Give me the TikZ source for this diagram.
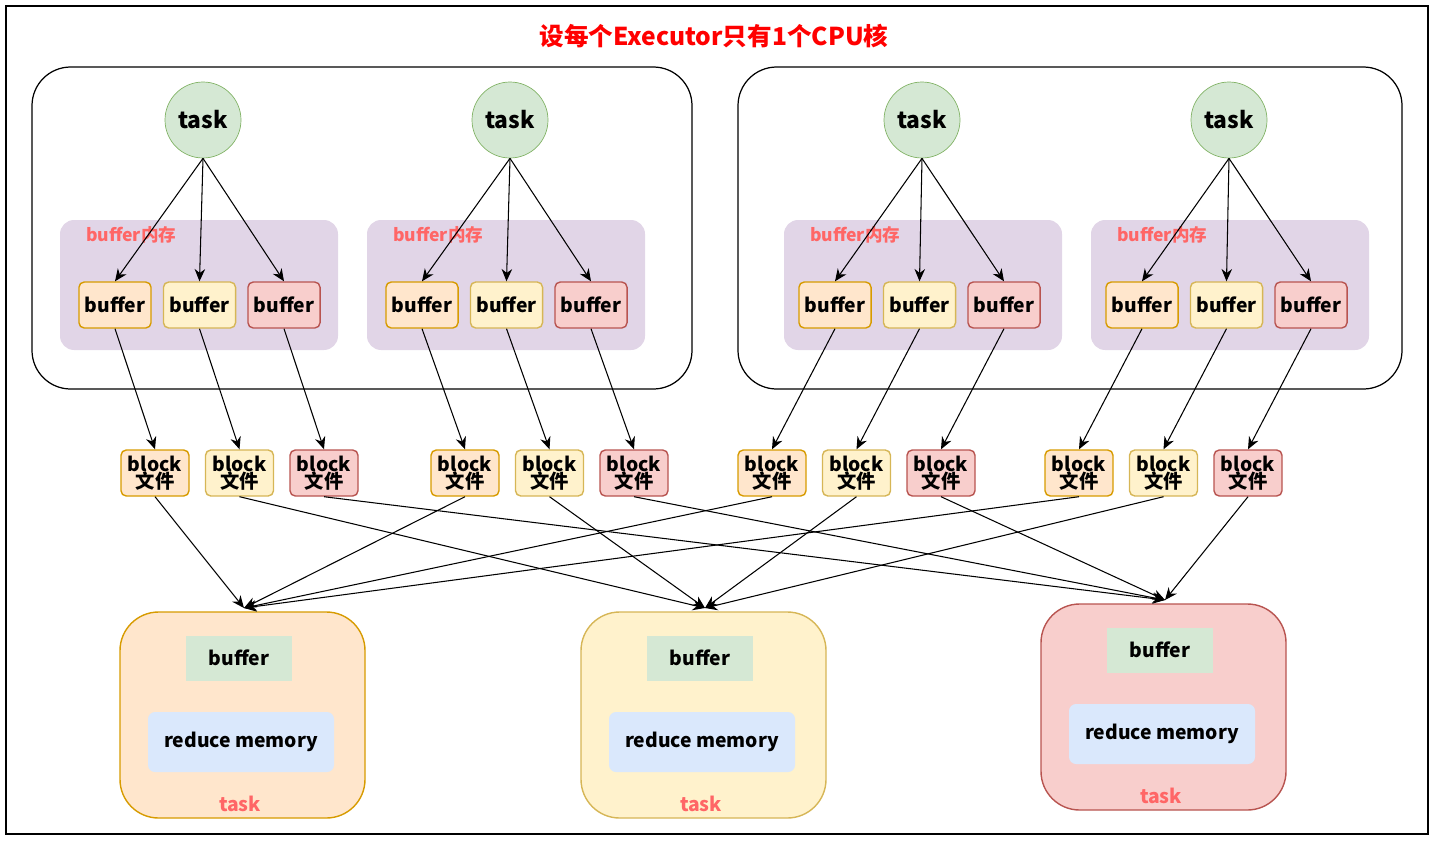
\documentclass[tikz,border=0pt]{standalone}
\usepackage{fontspec}
\setmainfont{Noto Sans CJK SC}
\usetikzlibrary{arrows.meta}
\definecolor{tgreen}{HTML}{D5E8D4}\definecolor{sgreen}{HTML}{82B366}
\definecolor{tpurple}{HTML}{E1D5E7}
\definecolor{torange}{HTML}{FFE6CC}\definecolor{sorange}{HTML}{D79B00}
\definecolor{tyellow}{HTML}{FFF2CC}\definecolor{syellow}{HTML}{D6B656}
\definecolor{tred}{HTML}{F8CECC}\definecolor{sred}{HTML}{B85450}
\definecolor{tblue}{HTML}{DAE8FC}\definecolor{lred}{HTML}{FF6666}
\newlength\unitlen \setlength\unitlen{0.02cm}
\tikzset{
  tasknode/.style={circle,draw=sgreen,fill=tgreen,minimum size=76\unitlen,font=\bfseries\fontsize{13}{13}\selectfont},
  bufnode/.style={draw,rounded corners=3pt,minimum width=70\unitlen,minimum height=46\unitlen,font=\bfseries\fontsize{11}{11}\selectfont,line width=0.8pt},
  blocknode/.style={bufnode,minimum width=68\unitlen,align=center,inner sep=0pt,font=\bfseries\fontsize{11}{10}\selectfont},
  c0/.style={draw=sorange,fill=torange},
  c1/.style={draw=syellow,fill=tyellow},
  c2/.style={draw=sred,fill=tred},
  arr/.style={-{Stealth[length=7pt,width=6pt]},line width=0.6pt},
}
\begin{document}
\begin{tikzpicture}[x=0.02cm,y=-0.02cm]
\useasboundingbox (0,0) rectangle (1436,842);
\draw[line width=0.6pt] (6,6) rectangle (1428,834);
\node[text=red,font=\bfseries\fontsize{14}{14}\selectfont] (title) at (714,36) {设每个Executor只有1个CPU核};

% executors
\draw[rounded corners=22pt,line width=0.7pt] (32,67) rectangle (692,389);
\draw[rounded corners=22pt,line width=0.7pt] (738,67) rectangle (1402,389);

% map side
\foreach \g/\tx/\gx in {1/203/60,2/510/367,3/922/784,4/1229/1091}{
  \fill[tpurple,rounded corners=8pt] (\gx,220) rectangle ++(278,130);
  \node[anchor=west,text=lred,font=\bfseries\fontsize{10}{10}\selectfont] (lab\g) at (\gx+20,235) {buffer内存};
  \node[tasknode] (t\g) at (\tx,120) {task};
}
\foreach \g/\bx/\kx in {1/115/155,2/422/465,3/835/772,4/1142/1079}{
  \foreach \i in {0,1,2}{
    \node[bufnode,c\i] (b\g\i) at ({\bx+84.5*\i},305) {buffer};
    \node[blocknode,c\i] (k\g\i) at ({\kx+84.5*\i},473) {block\\文件};
    \draw[arr] (t\g.south) -- (b\g\i.north);
    \draw[arr] (b\g\i.south) -- (k\g\i.north);
  }
}

% reduce side
\foreach \i/\rx/\ry in {0/120/612,1/581/612,2/1041/604}{
  \draw[c\i,rounded corners=22pt,line width=0.8pt] (\rx,\ry) rectangle ++(245,206);
  \coordinate (r\i) at (\rx+124,\ry-4);
  \node[fill=tgreen,minimum width=106\unitlen,minimum height=45\unitlen,font=\bfseries\fontsize{11}{11}\selectfont] (rb\i) at (\rx+119,\ry+46) {buffer};
  \node[fill=tblue,rounded corners=4pt,minimum width=186\unitlen,minimum height=60\unitlen,font=\bfseries\fontsize{11}{11}\selectfont] (rm\i) at (\rx+121,\ry+130) {reduce memory};
  \node[text=lred,font=\bfseries\fontsize{11}{11}\selectfont] (rt\i) at (\rx+120,\ry+192) {task};
  \foreach \g in {1,2,3,4}{
    \draw[arr] (k\g\i.south) -- (r\i);
  }
}
\end{tikzpicture}
\end{document}
